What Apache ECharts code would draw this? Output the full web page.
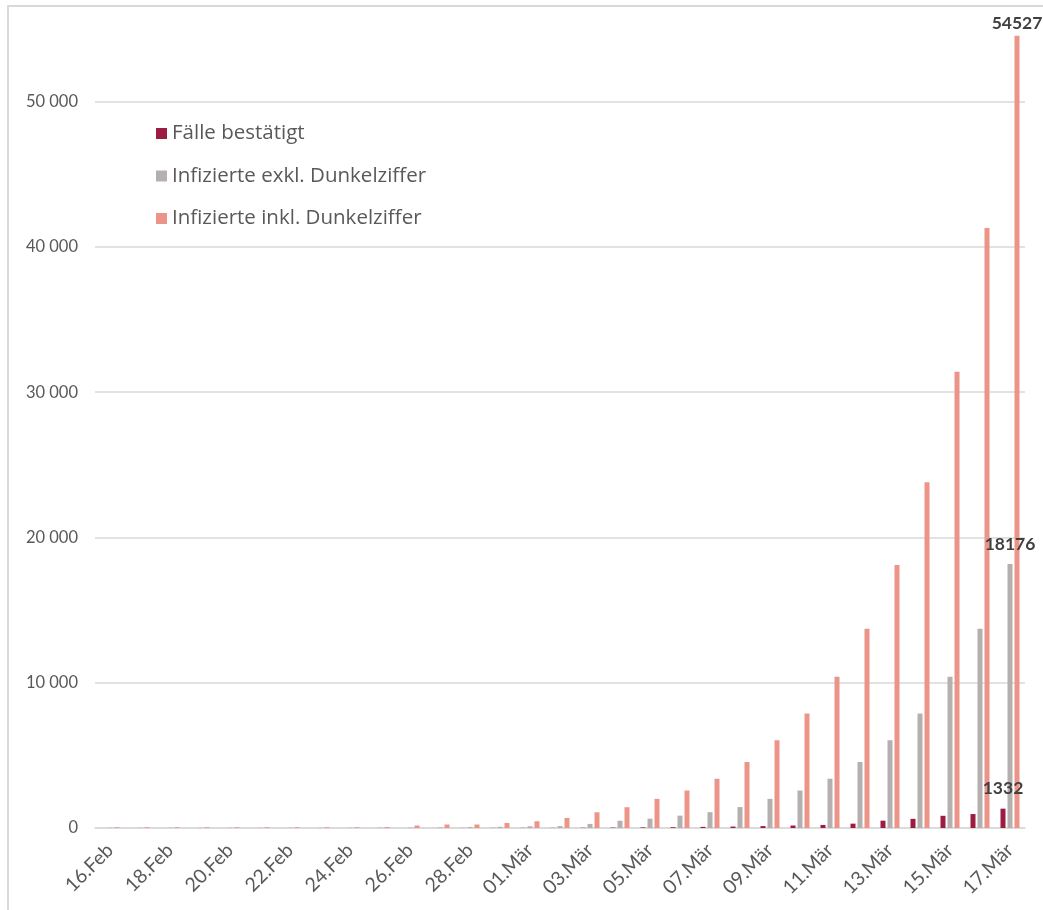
<!DOCTYPE html>
<html>
<head>
<meta charset="utf-8">
<script src="https://cdn.jsdelivr.net/npm/echarts@6/dist/echarts.min.js"></script>
<style>
  html, body { margin: 0; padding: 0; background: #fff; }
  #frame { position: absolute; left: 7px; top: 5px; width: 1100px; height: 1000px;
           border-left: 2px solid #d9d9d9; border-top: 2px solid #d9d9d9; }
  #myChart { position: absolute; left: 0; top: 0; width: 1043px; height: 910px; }
</style>
</head>
<body>
<div id="frame"></div>
<div id="myChart"></div>
<script>
var categories = ['16.Feb','17.Feb','18.Feb','19.Feb','20.Feb','21.Feb','22.Feb','23.Feb','24.Feb','25.Feb',
  '26.Feb','27.Feb','28.Feb','29.Feb','01.Mär','02.Mär','03.Mär','04.Mär','05.Mär','06.Mär','07.Mär',
  '08.Mär','09.Mär','10.Mär','11.Mär','12.Mär','13.Mär','14.Mär','15.Mär','16.Mär','17.Mär'];

var faelle = [0, 0, 0, 0, 0, 0, 0, 0, 0, 2,
  2, 3, 5, 9, 10, 10, 18, 27, 41, 55, 79,
  99, 131, 170, 210, 300, 505, 630, 840, 960, 1332];

var exklDunkel = [20, 20, 20, 20, 20, 20, 20, 20, 20, 25,
  30, 40, 60, 80, 115, 130, 280, 500, 640, 850, 1090,
  1440, 2005, 2580, 3390, 4540, 6040, 7880, 10420, 13720, 18176];

var inklDunkel = [50, 50, 50, 50, 50, 50, 50, 50, 50, 70,
  170, 240, 240, 345, 465, 690, 1080, 1430, 2005, 2580, 3390,
  4540, 6040, 7880, 10420, 13720, 18100, 23800, 31400, 41300, 54527];

var seriesNames = ['Fälle bestätigt', 'Infizierte exkl. Dunkelziffer', 'Infizierte inkl. Dunkelziffer'];
var colors = ['#9c1c42', '#b5b0af', '#ec9488'];

// only the last value of each series gets a label
function withLastLabel(arr, dist){
  return arr.map(function(v, i){
    if (i === arr.length - 1) {
      return { value: v, label: { show: true, distance: dist } };
    }
    return v;
  });
}

var font = 'Lato, "Open Sans", sans-serif';
var myChart = echarts.init(document.getElementById('myChart'));

var barLabel = {
  show: false,
  position: 'top',
  color: '#404040',
  fontWeight: 'bold',
  fontSize: 17.5,
  fontFamily: font
};

var option = {
  animation: false,
  color: colors,
  textStyle: { fontFamily: font },
  legend: {
    orient: 'vertical',
    left: 151,
    top: 118,
    itemWidth: 11,
    itemHeight: 11,
    itemGap: 21.5,
    icon: 'rect',
    textStyle: { fontSize: 20.5, color: '#595959', fontFamily: '"Open Sans", sans-serif' },
    data: seriesNames
  },
  grid: { left: 95, right: 18, top: 29, bottom: 82 },
  xAxis: {
    type: 'category',
    data: categories,
    axisLine: { lineStyle: { color: '#d9d9d9', width: 1.5 } },
    axisTick: { show: false },
    axisLabel: {
      interval: 1,
      rotate: 45,
      margin: 19,
      fontSize: 19.5,
      color: '#595959',
      fontFamily: font
    }
  },
  yAxis: {
    type: 'value',
    min: 0,
    max: 55000,
    interval: 10000,
    axisLine: { show: false },
    axisTick: { show: false },
    splitLine: { showMaxLine: false, lineStyle: { color: '#d9d9d9', width: 1.5 } },
    axisLabel: {
      showMaxLabel: false,
      margin: 17,
      fontSize: 16.5,
      color: '#595959',
      fontFamily: font,
      formatter: function(v){
        return String(v).replace(/\B(?=(\d{3})+(?!\d))/g, ' ');
      }
    }
  },
  series: [
    {
      name: seriesNames[0],
      type: 'bar',
      barWidth: 5,
      barGap: '40%',
      label: barLabel,
      data: withLastLabel(faelle, 11)
    },
    {
      name: seriesNames[1],
      type: 'bar',
      barWidth: 5,
      barGap: '40%',
      label: barLabel,
      data: withLastLabel(exklDunkel, 11)
    },
    {
      name: seriesNames[2],
      type: 'bar',
      barWidth: 5,
      barGap: '40%',
      label: barLabel,
      data: withLastLabel(inklDunkel, 4)
    }
  ]
};
myChart.setOption(option);
</script>
</body>
</html>
